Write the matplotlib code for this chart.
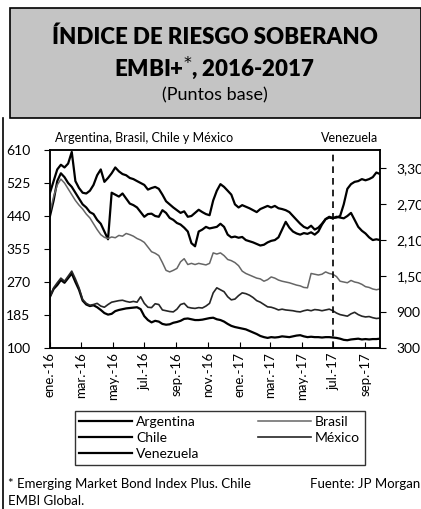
import numpy as np
import pandas as pd
import matplotlib
matplotlib.use("Agg")
import matplotlib.pyplot as plt
import matplotlib.dates as mdates
from matplotlib.patches import Rectangle
from matplotlib.lines import Line2D

plt.rcParams["font.family"] = ["Lato", "DejaVu Sans"]

# weekly observations, Jan 2016 - late Sep 2017
dates = pd.date_range("2016-01-01", "2017-09-29", freq="7D")

argentina = [440, 480, 530, 550, 540, 525, 515, 500, 485, 470, 462, 450, 445, 430, 420, 400,
             380, 500, 495, 490, 498, 485, 472, 468, 462, 450, 438, 445, 446, 440, 438, 455,
             448, 435, 430, 422, 418, 410, 400, 370, 362, 400, 405, 412, 408, 410, 412, 420,
             412, 392, 385, 387, 384, 386, 378, 375, 372, 368, 364, 366, 372, 376, 378, 385,
             405, 425, 410, 400, 395, 392, 396, 394, 398, 392, 400, 418, 432, 436, 434, 438,
             436, 434, 440, 448, 430, 412, 402, 395, 385, 378, 380, 378]
brasil = [450, 490, 520, 535, 525, 510, 495, 480, 468, 458, 445, 435, 420, 405, 392, 385,
          382, 386, 384, 390, 388, 395, 392, 388, 382, 378, 372, 360, 348, 344, 338, 320,
          300, 296, 300, 305, 322, 330, 315, 318, 315, 318, 316, 314, 318, 345, 342, 345,
          338, 328, 325, 320, 312, 298, 292, 288, 284, 280, 278, 272, 276, 283, 280, 275,
          272, 270, 268, 265, 262, 260, 256, 255, 292, 290, 288, 290, 296, 292, 290, 284,
          272, 270, 268, 274, 270, 268, 264, 258, 256, 252, 250, 252]
chile = [232, 252, 262, 275, 268, 280, 292, 270, 250, 222, 212, 208, 210, 205, 198, 190,
         186, 188, 195, 198, 200, 202, 203, 204, 205, 200, 182, 172, 166, 170, 168, 162,
         160, 161, 165, 167, 170, 175, 176, 174, 172, 172, 173, 175, 177, 178, 174, 172,
         168, 162, 157, 154, 152, 150, 148, 144, 140, 136, 131, 128, 126, 128, 127, 128,
         130, 129, 128, 130, 132, 133, 130, 128, 129, 128, 128, 127, 128, 128, 127, 126,
         124, 121, 120, 122, 123, 124, 122, 123, 122, 123, 123, 124]
mexico = [232, 255, 268, 280, 272, 285, 298, 278, 255, 225, 215, 210, 212, 215, 208, 205,
          212, 218, 220, 222, 223, 220, 218, 220, 218, 232, 215, 205, 204, 214, 212, 198,
          196, 194, 193, 200, 212, 215, 205, 203, 202, 204, 203, 208, 215, 242, 255, 250,
          245, 232, 224, 226, 235, 242, 240, 236, 230, 222, 218, 212, 206, 205, 202, 198,
          200, 198, 197, 196, 194, 193, 196, 198, 196, 199, 198, 196, 198, 200, 196, 190,
          186, 184, 182, 188, 192, 186, 182, 180, 181, 178, 176, 177]
venezuela = [2888, 3082, 3276, 3354, 3309, 3374, 3568, 3082, 2966, 2888, 2875, 2921, 3018, 3179,
             3276, 3069, 3134, 3212, 3309, 3244, 3199, 3179, 3134, 3115, 3082, 3050, 3018, 2940,
             2966, 2985, 2953, 2856, 2746, 2694, 2642, 2597, 2552, 2578, 2487, 2500, 2552, 2604,
             2565, 2532, 2513, 2759, 2921, 3031, 2985, 2921, 2856, 2694, 2642, 2681, 2655, 2629,
             2597, 2565, 2616, 2642, 2668, 2642, 2668, 2629, 2616, 2597, 2565, 2500, 2435, 2371,
             2319, 2293, 2338, 2274, 2306, 2371, 2448, 2487, 2468, 2474, 2500, 2694, 2953, 3031,
             3069, 3082, 3115, 3095, 3115, 3147, 3225, 3199]

left_ticks = [100, 185, 270, 355, 440, 525, 610]
right_ticks = [300, 900, 1500, 2100, 2700, 3300]
right_labels = ["300", "900", "1,500", "2,100", "2,700", "3,300"]
month_names = ["ene.", "feb.", "mar.", "abr.", "may.", "jun.", "jul.", "ago.", "sep.", "oct.", "nov.", "dic."]

fig = plt.figure(figsize=(4.21, 5.09), dpi=100)

# title band
fig.add_artist(Rectangle((10 / 421, 1 - 118 / 509), 411 / 421, 110 / 509, transform=fig.transFigure,
                         facecolor="#c4c4c4", edgecolor="black", linewidth=1.2))
fig.add_artist(Line2D([3 / 421, 3 / 421], [0, 1 - 118 / 509], transform=fig.transFigure,
                      color="black", linewidth=1.2))
fig.text(0.51, 0.927, "ÍNDICE DE RIESGO SOBERANO", ha="center", va="center",
         fontsize=16, fontweight="heavy")
fig.text(0.51, 0.866, r"EMBI+$^{*}$, 2016-2017", ha="center", va="center",
         fontsize=16, fontweight="heavy")
fig.text(0.51, 0.813, "(Puntos base)", ha="center", va="center", fontsize=13)

ax = fig.add_axes([50 / 421, 1 - 348 / 509, 330 / 421, 198 / 509])
ax2 = ax.twinx()

ax.plot(dates, argentina, color="black", linewidth=1.6, label="Argentina")
ax.plot(dates, chile, color="black", linewidth=1.6, label="Chile")
ax.plot(dates, brasil, color="0.4", linewidth=1.1, label="Brasil")
ax.plot(dates, mexico, color="0.15", linewidth=1.2, label="México")
ax2.plot(dates, venezuela, color="black", linewidth=1.6, label="Venezuela")

ax.axvline(pd.Timestamp("2017-07-01"), color="black", linewidth=1.2, linestyle=(0, (4, 3)))

ax.set_xlim(pd.Timestamp("2016-01-01"), pd.Timestamp("2017-09-29"))
ax.set_ylim(100, 610)
ax.set_yticks(left_ticks)
ax2.set_ylim(300, 3600)
ax2.set_yticks(right_ticks)
ax2.set_yticklabels(right_labels)

ax.xaxis.set_major_locator(mdates.MonthLocator(bymonth=[1, 3, 5, 7, 9, 11]))
ax.xaxis.set_major_formatter(plt.FuncFormatter(
    lambda v, p: month_names[mdates.num2date(v).month - 1] + "-" + mdates.num2date(v).strftime("%y")))
for lab in ax.get_xticklabels():
    lab.set_rotation(90)

ax.tick_params(axis="x", direction="in", length=4, labelsize=9.5, pad=3)
ax.tick_params(axis="y", direction="out", length=4, labelsize=10, pad=10)
ax2.tick_params(axis="y", direction="out", length=4, labelsize=10, pad=8)
for a in (ax, ax2):
    for sp in a.spines.values():
        sp.set_linewidth(1.1)

fig.text(55 / 421, 0.729, "Argentina, Brasil, Chile y México", ha="left", va="center", fontsize=9)
fig.text(378 / 421, 0.729, "Venezuela", ha="right", va="center", fontsize=9)

h1, l1 = ax.get_legend_handles_labels()
h2, l2 = ax2.get_legend_handles_labels()
hd = dict(zip(l1 + l2, h1 + h2))
order = ["Argentina", "Chile", "Venezuela", "Brasil", "México"]
leg = fig.legend([hd[k] for k in order], order, ncol=2, loc="center",
                 bbox_to_anchor=(0.522, 0.139), fontsize=10, frameon=True, fancybox=False,
                 handlelength=3.8, columnspacing=4.2, labelspacing=0.28, handletextpad=0.3,
                 borderpad=0.35)
leg.get_frame().set_edgecolor("black")
leg.get_frame().set_linewidth(1.0)

fig.text(8 / 421, 0.049, "* Emerging Market Bond Index Plus. Chile", ha="left", va="center", fontsize=9.5)
fig.text(8 / 421, 0.016, "EMBI Global.", ha="left", va="center", fontsize=9.5)
fig.text(420 / 421, 0.049, "Fuente: JP Morgan", ha="right", va="center", fontsize=9.5)

fig.savefig("out.png", dpi=100)
